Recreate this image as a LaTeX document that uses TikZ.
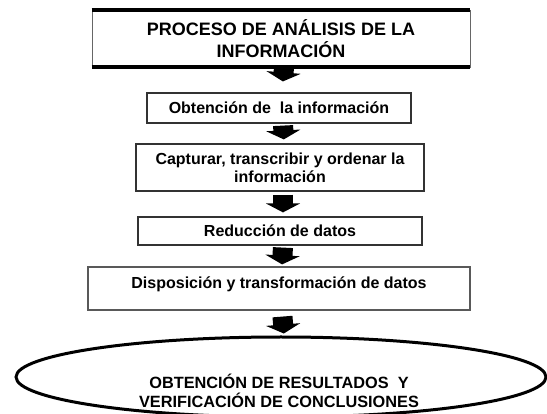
\documentclass[tikz,border=0pt]{standalone}
\usepackage{fontspec}
\setmainfont{Liberation Sans}
\usetikzlibrary{arrows.meta,shapes.geometric}

\begin{document}
\begin{tikzpicture}[x=1pt,y=-1pt,
                    caja/.style={draw=black!80, line width=1.2pt, minimum height=#1, inner sep=0pt, align=center,
                                 font=\bfseries\fontsize{16}{18}\selectfont},
                    flecha/.style={line width=20pt, -{Triangle[width=34pt,length=9pt]}}]
                    \useasboundingbox (0,0) rectangle (547,414);

                    \node[caja=57pt, draw=black!60, line width=0.6pt, minimum width=378pt,
                          font=\bfseries\fontsize{18}{22}\selectfont] (proceso) at (281,38.5)
                          {PROCESO DE ANÁLISIS DE LA\\INFORMACIÓN};
                    \draw[line width=4pt] (proceso.north west) -- (proceso.north east);
                    \draw[line width=4pt] (proceso.south west) -- (proceso.south east);

                    \node[caja=30pt, minimum width=264pt] (obtencion) at (279,108) {Obtención de \ la información};
                    \node[caja=47pt, minimum width=288pt] (captura) at (280,167.5) {Capturar, transcribir y ordenar la\\información};
                    \node[caja=28pt, minimum width=284pt] (reduccion) at (280,231) {Reducción de datos};
                    \node[caja=43pt, draw=black!65, minimum width=382pt, text height=10pt, text depth=10pt] (disposicion) at (279,288.5)
                          {Disposición y transformación de datos};

                    \node[ellipse, draw, line width=3pt, minimum width=530pt, minimum height=80pt] (resultados) at (281,377) {};
                    \node[align=center, font=\bfseries\fontsize{16.3}{19}\selectfont] (restexto) at (279,391)
                          {OBTENCIÓN DE RESULTADOS \ Y\\VERIFICACIÓN DE CONCLUSIONES};

                    \draw[flecha, shorten >=11pt] ([xshift=3pt]proceso.south) -- ([xshift=3pt]obtencion.north);
                    \draw[flecha, shorten <=2pt, shorten >=4pt] ([xshift=4pt]obtencion.south) -- ([xshift=4pt]captura.north);
                    \draw[flecha, shorten <=3pt, shorten >=4pt] ([xshift=3pt]captura.south) -- ([xshift=3pt]reduccion.north);
                    \draw[flecha, shorten <=2pt, shorten >=2pt] ([xshift=3pt]reduccion.south) -- ([xshift=3pt]disposicion.north);
                    \draw[flecha, shorten <=6pt, shorten >=2pt] ([xshift=3pt]disposicion.south) -- ([xshift=3pt]resultados.north);
\end{tikzpicture}
\end{document}
